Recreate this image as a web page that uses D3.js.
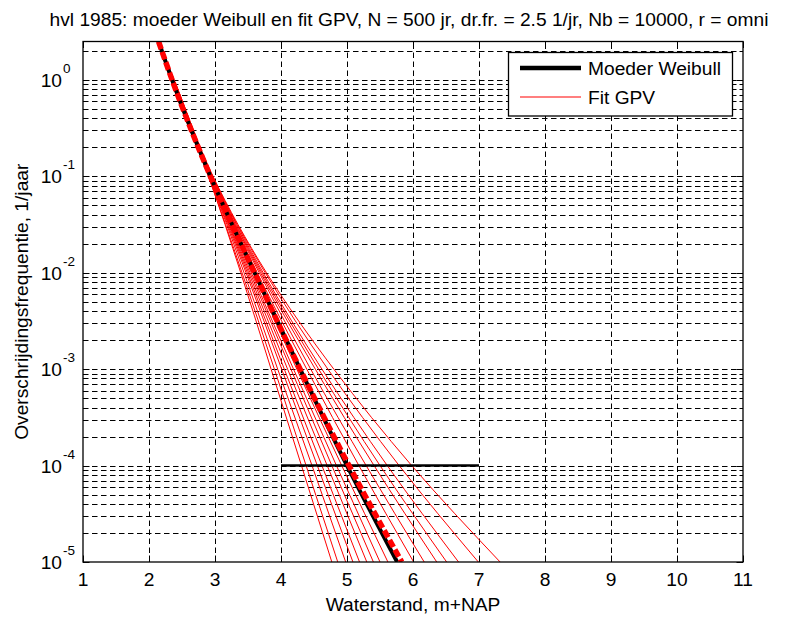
<!DOCTYPE html>
<html>
<head>
<meta charset="utf-8">
<script src="https://cdn.jsdelivr.net/npm/d3@7"></script>
<style>
  html, body { margin: 0; padding: 0; background: #fff; }
  svg { display: block; }
  text { font-family: "Liberation Sans", Arial, Helvetica, sans-serif; fill: #000; }
</style>
</head>
<body>
<svg id="chart" width="788" height="619"></svg>
<script>
// Exceedance frequencies (1/jaar) at which the curves are tabulated
const freqLevels = [2.5, 1, 1e-1, 1e-2, 1e-3, 1e-4, 1e-5];

// Mother Weibull: water level (m+NAP) at each frequency level
const weibullX = [2.145, 2.35, 2.93, 3.60, 4.29, 5.00, 5.76];

// Central GPV fit (thick dashed)
const centralFitX = [2.145, 2.35, 2.93, 3.60, 4.29, 5.03, 5.83];

// Bootstrap GPV fits: water level at each frequency level
const fitX = [
  [2.145, 2.33, 2.90, 3.39, 3.85, 4.31, 4.77],
  [2.145, 2.33, 2.90, 3.41, 3.90, 4.38, 4.86],
  [2.145, 2.34, 2.91, 3.44, 3.95, 4.47, 4.98],
  [2.145, 2.34, 2.91, 3.47, 4.01, 4.55, 5.09],
  [2.145, 2.34, 2.92, 3.49, 4.05, 4.62, 5.19],
  [2.145, 2.35, 2.92, 3.51, 4.10, 4.70, 5.30],
  [2.145, 2.35, 2.92, 3.53, 4.15, 4.77, 5.40],
  [2.145, 2.35, 2.93, 3.55, 4.19, 4.84, 5.50],
  [2.145, 2.35, 2.93, 3.58, 4.24, 4.92, 5.62],
  [2.145, 2.36, 2.94, 3.64, 4.39, 5.18, 6.01],
  [2.145, 2.36, 2.94, 3.67, 4.45, 5.29, 6.17],
  [2.145, 2.36, 2.95, 3.69, 4.52, 5.41, 6.36],
  [2.145, 2.37, 2.95, 3.71, 4.57, 5.50, 6.51],
  [2.145, 2.37, 2.96, 3.73, 4.62, 5.61, 6.69],
  [2.145, 2.38, 2.96, 3.76, 4.71, 5.79, 6.99],
  [2.145, 2.38, 2.97, 3.78, 4.80, 5.98, 7.32]
];

// Reference level segment
const refFreq = 1e-4;
const refX = [4, 7];

// Axis settings
const xDomain = [1, 11];
const yDomain = [1e-5, 2.5];
const xTicks = [1, 2, 3, 4, 5, 6, 7, 8, 9, 10, 11];
const yDecades = [-5, -4, -3, -2, -1, 0];

const titleText = "hvl 1985: moeder Weibull en fit GPV, N = 500 jr, dr.fr. = 2.5 1/jr, Nb = 10000, r = omni";
const xLabel = "Waterstand, m+NAP";
const yLabel = "Overschrijdingsfrequentie, 1/jaar";
const legendLabels = ["Moeder Weibull", "Fit GPV"];

const svg = d3.select("#chart");
const L = 83, R = 743, T = 41.5, B = 562;
const FS = 19.2;

const x = d3.scaleLinear().domain(xDomain).range([L, R]);
const y = d3.scaleLog().domain(yDomain).range([B, T]);

// minor log values inside the domain
const minorVals = [];
yDecades.forEach(d => {
  for (let k = 2; k <= 9; k++) {
    const v = k * Math.pow(10, d);
    if (v <= yDomain[1]) minorVals.push(v);
  }
});
const majorVals = yDecades.map(d => Math.pow(10, d));

const dash = "5.5,3.5";
const grid = svg.append("g").attr("stroke", "#000").attr("stroke-width", 1)
  .attr("stroke-dasharray", dash).attr("fill", "none");

// vertical grid
xTicks.slice(1, -1).forEach(v => {
  const px = Math.round(x(v)) + 0.5;
  grid.append("line").attr("x1", px).attr("x2", px).attr("y1", B).attr("y2", T);
});
// horizontal grid (major + minor)
majorVals.concat(minorVals).forEach(v => {
  if (v <= yDomain[0] || v >= yDomain[1]) return;
  const py = Math.round(y(v)) + 0.5;
  grid.append("line").attr("x1", L).attr("x2", R).attr("y1", py).attr("y2", py);
});

// clip to the plotting box
svg.append("clipPath").attr("id", "plotclip")
  .append("rect").attr("x", L).attr("y", T).attr("width", R - L).attr("height", B - T);

const plot = svg.append("g").attr("clip-path", "url(#plotclip)");

const lineGen = d3.line()
  .x(d => x(d[0]))
  .y(d => y(d[1]))
  .curve(d3.curveMonotoneY);

const pairs = xs => xs.map((v, i) => [v, freqLevels[i]]);

// bootstrap fits
plot.append("g").selectAll("path").data(fitX).join("path")
  .attr("d", d => lineGen(pairs(d)))
  .attr("fill", "none").attr("stroke", "#ff0000").attr("stroke-width", 1);

// reference segment
plot.append("line")
  .attr("x1", x(refX[0])).attr("x2", x(refX[1]))
  .attr("y1", y(refFreq)).attr("y2", y(refFreq))
  .attr("stroke", "#000").attr("stroke-width", 2.5);

// mother Weibull
plot.append("path").attr("d", lineGen(pairs(weibullX)))
  .attr("fill", "none").attr("stroke", "#000").attr("stroke-width", 4);

// central fit
plot.append("path").attr("d", lineGen(pairs(centralFitX)))
  .attr("fill", "none").attr("stroke", "#ff0000").attr("stroke-width", 5.5)
  .attr("stroke-dasharray", "8,3");

// axes box
svg.append("rect").attr("x", L).attr("y", T).attr("width", R - L).attr("height", B - T)
  .attr("fill", "none").attr("stroke", "#000").attr("stroke-width", 1.3);

// tick marks (inside, on all four sides)
const ticks = svg.append("g").attr("stroke", "#000").attr("stroke-width", 1);
xTicks.forEach(v => {
  const px = Math.round(x(v)) + 0.5;
  ticks.append("line").attr("x1", px).attr("x2", px).attr("y1", B).attr("y2", B - 6.5);
  ticks.append("line").attr("x1", px).attr("x2", px).attr("y1", T).attr("y2", T + 6.5);
});
majorVals.forEach(v => {
  const py = Math.round(y(v)) + 0.5;
  ticks.append("line").attr("x1", L).attr("x2", L + 6.5).attr("y1", py).attr("y2", py);
  ticks.append("line").attr("x1", R).attr("x2", R - 6.5).attr("y1", py).attr("y2", py);
});
minorVals.forEach(v => {
  const py = Math.round(y(v)) + 0.5;
  ticks.append("line").attr("x1", L).attr("x2", L + 3.5).attr("y1", py).attr("y2", py);
  ticks.append("line").attr("x1", R).attr("x2", R - 3.5).attr("y1", py).attr("y2", py);
});

// x tick labels
svg.append("g").selectAll("text").data(xTicks).join("text")
  .attr("x", d => x(d)).attr("y", 586)
  .attr("text-anchor", "middle").attr("font-size", FS)
  .text(d => d);

// y tick labels: 10 with superscript exponent
yDecades.forEach(d => {
  const py = y(Math.pow(10, d));
  svg.append("text").attr("x", 62).attr("y", py + 7)
    .attr("text-anchor", "end").attr("font-size", FS).text("10");
  svg.append("text").attr("x", 63).attr("y", py - 7)
    .attr("font-size", 13.5).text(String(d));
});

// title and axis labels
svg.append("text").attr("x", 409).attr("y", 26)
  .attr("text-anchor", "middle").attr("font-size", FS).text(titleText);
svg.append("text").attr("x", (L + R) / 2).attr("y", 611)
  .attr("text-anchor", "middle").attr("font-size", FS).text(xLabel);
svg.append("text")
  .attr("transform", `translate(28,${(T + B) / 2}) rotate(-90)`)
  .attr("text-anchor", "middle").attr("font-size", FS).text(yLabel);

// legend
const lg = svg.append("g");
lg.append("rect").attr("x", 508.5).attr("y", 52.5).attr("width", 224).attr("height", 63.5)
  .attr("fill", "#fff").attr("stroke", "#000").attr("stroke-width", 1.3);
lg.append("line").attr("x1", 520).attr("x2", 581).attr("y1", 68).attr("y2", 68)
  .attr("stroke", "#000").attr("stroke-width", 4.5);
lg.append("line").attr("x1", 520).attr("x2", 581).attr("y1", 97).attr("y2", 97)
  .attr("stroke", "#ff0000").attr("stroke-width", 1.2);
lg.append("text").attr("x", 588).attr("y", 75).attr("font-size", FS).text(legendLabels[0]);
lg.append("text").attr("x", 588).attr("y", 104).attr("font-size", FS).text(legendLabels[1]);
</script>
</body>
</html>
